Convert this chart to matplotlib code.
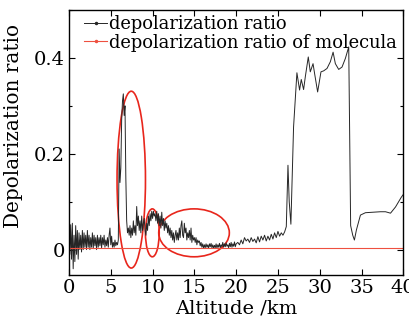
import matplotlib
matplotlib.use("Agg")
import matplotlib.pyplot as plt
from matplotlib.patches import Ellipse
from matplotlib.lines import Line2D
from matplotlib.ticker import MultipleLocator, FuncFormatter

plt.rcParams['font.family'] = ['DejaVu Serif']

# ---- data: total depolarization ratio (0-20 km dense profile, 0.1 km grid) ----
alt_low = [round(0.1 * i, 1) for i in range(201)]
ratio_low = [
    0.040, -0.010, 0.052, -0.020, 0.055, -0.040, 0.030, -0.025, 0.050, -0.010,
    0.040, -0.020, 0.035, 0.000, 0.030, -0.005, 0.040, 0.000, 0.035, 0.005,
    0.030, 0.000, 0.040, 0.005, 0.030, 0.000, 0.025, 0.005, 0.035, 0.002,
    0.030, 0.008, 0.025, 0.000, 0.030, 0.005, 0.025, 0.008, 0.030, 0.003,
    0.025, 0.010, 0.030, 0.005, 0.020, 0.008, 0.025, 0.005, 0.030, 0.045,
    0.010, 0.028, 0.005, 0.015, 0.005, 0.020, 0.008, 0.015, 0.010, 0.020,
    0.210, 0.140, 0.170, 0.270, 0.310, 0.325, 0.280, 0.300, 0.150, 0.060,
    0.035, 0.045, 0.030, 0.050, 0.025, 0.045, 0.030, 0.060, 0.035, 0.050,
    0.030, 0.090, 0.050, 0.070, 0.040, 0.060, 0.035, 0.070, 0.040, 0.055,
    0.065, 0.040, 0.030, 0.055, 0.040, 0.070, 0.050, 0.075, 0.060, 0.080,
    0.065, 0.080, 0.070, 0.075, 0.060, 0.080, 0.055, 0.075, 0.050, 0.070,
    0.045, 0.078, 0.050, 0.065, 0.040, 0.060, 0.045, 0.055, 0.035, 0.050,
    0.030, 0.045, 0.025, 0.040, 0.020, 0.035, 0.015, 0.030, 0.040, 0.020,
    0.035, 0.020, 0.045, 0.025, 0.050, 0.060, 0.030, 0.025, 0.055, 0.035,
    0.045, 0.020, 0.035, 0.025, 0.040, 0.020, 0.045, 0.015, 0.030, 0.020,
    0.025, 0.015, 0.025, 0.010, 0.020, 0.015, 0.018, 0.008, 0.015, 0.005,
    0.012, 0.003, 0.010, 0.004, 0.012, 0.005, 0.010, 0.003, 0.012, 0.006,
    0.013, 0.004, 0.010, 0.003, 0.009, 0.004, 0.012, 0.003, 0.010, 0.005,
    0.013, 0.004, 0.010, 0.006, 0.015, 0.005, 0.012, 0.006, 0.014, 0.007,
    0.010, 0.004, 0.013, 0.006, 0.015, 0.005, 0.012, 0.007, 0.016, 0.006,
    0.012,
]

# 20-40 km profile
alt_high = [
    20.2, 20.4, 20.6, 20.8, 21.0, 21.2, 21.4, 21.6, 21.8, 22.0,
    22.2, 22.4, 22.6, 22.8, 23.0, 23.2, 23.4, 23.6, 23.8, 24.0,
    24.2, 24.4, 24.6, 24.8, 25.0, 25.2, 25.4, 25.6, 25.8, 26.0,
    26.2, 26.35, 26.55, 26.87, 27.27, 27.59, 27.79, 28.07, 28.27, 28.63,
    28.87, 29.2, 29.39, 29.75, 30.15, 30.47, 30.87, 31.27, 31.6, 31.87,
    32.27, 32.67, 33.07, 33.47, 33.7, 33.95, 34.15, 34.39, 34.87, 35.47,
    36.47, 37.27, 37.87, 38.47, 39.07, 39.75, 40.0,
]
ratio_high = [
    0.015, 0.010, 0.020, 0.012, 0.025, 0.018, 0.022, 0.015, 0.025, 0.017,
    0.022, 0.014, 0.027, 0.016, 0.028, 0.020, 0.030, 0.018, 0.028, 0.020,
    0.032, 0.022, 0.035, 0.025, 0.038, 0.028, 0.035, 0.030, 0.037, 0.048,
    0.176, 0.100, 0.053, 0.256, 0.369, 0.333, 0.355, 0.334, 0.360, 0.402,
    0.371, 0.388, 0.367, 0.329, 0.371, 0.373, 0.378, 0.392, 0.412, 0.388,
    0.376, 0.381, 0.399, 0.423, 0.050, 0.030, 0.020, 0.041, 0.072, 0.077,
    0.078, 0.079, 0.079, 0.076, 0.089, 0.109, 0.115,
]

# molecular depolarization ratio (constant)
mol_alt = [0.0, 40.0]
mol_ratio = [0.0036, 0.0036]

# highlighted regions (ellipses): centre altitude, centre ratio, width (km), height
ell_x = [7.45, 9.97, 14.96]
ell_y = [0.146, 0.035, 0.035]
ell_w = [3.4, 1.65, 8.45]
ell_h = [0.369, 0.10, 0.10]

legend_labels = ["depolarization ratio", "depolarization ratio of molecula"]

# ---- figure ----
fig = plt.figure(figsize=(4.1, 3.2), dpi=100)
ax = fig.add_axes([69 / 410, 1 - 275 / 320, (403.3 - 69) / 410, (275 - 10) / 320])

black = "#262626"
red = "#ee5040"
ax.plot(alt_low + alt_high, ratio_low + ratio_high, color=black, lw=0.7)
ax.plot(mol_alt, mol_ratio, color=red, lw=0.8)

for cx, cy, w, h in zip(ell_x, ell_y, ell_w, ell_h):
    ax.add_patch(Ellipse((cx, cy), w, h, fill=False, edgecolor="#e8261c", lw=1.2))

ax.set_xlim(0, 40)
ax.set_ylim(-0.053, 0.5)
ax.xaxis.set_major_locator(MultipleLocator(5))
ax.yaxis.set_major_locator(MultipleLocator(0.2))
ax.yaxis.set_minor_locator(MultipleLocator(0.1))
ax.yaxis.set_major_formatter(FuncFormatter(lambda v, p: "0" if abs(v) < 1e-9 else f"{v:.1f}"))
ax.tick_params(which="both", direction="in", top=True, right=True, labelsize=14, pad=3)
ax.tick_params(which="major", length=4, width=0.8)
ax.tick_params(which="minor", length=2.5, width=0.8)
for s in ax.spines.values():
    s.set_linewidth(1.0)

ax.set_xlabel("Altitude /km", fontsize=14, labelpad=2)
ax.set_ylabel("Depolarization ratio", fontsize=14.4)
ax.yaxis.set_label_coords(-0.138, 0.562)

handles = [
    Line2D([], [], color=black, lw=0.7, marker=".", ms=3),
    Line2D([], [], color=red, lw=0.8, marker=".", ms=3),
]
ax.legend(handles, legend_labels, loc="upper left", bbox_to_anchor=(15 / 334.3, 0.98),
          frameon=False, fontsize=12.9, handlelength=1.3, handletextpad=0.1,
          borderpad=0, borderaxespad=0, labelspacing=0.02)

fig.savefig("out.png", dpi=100)
